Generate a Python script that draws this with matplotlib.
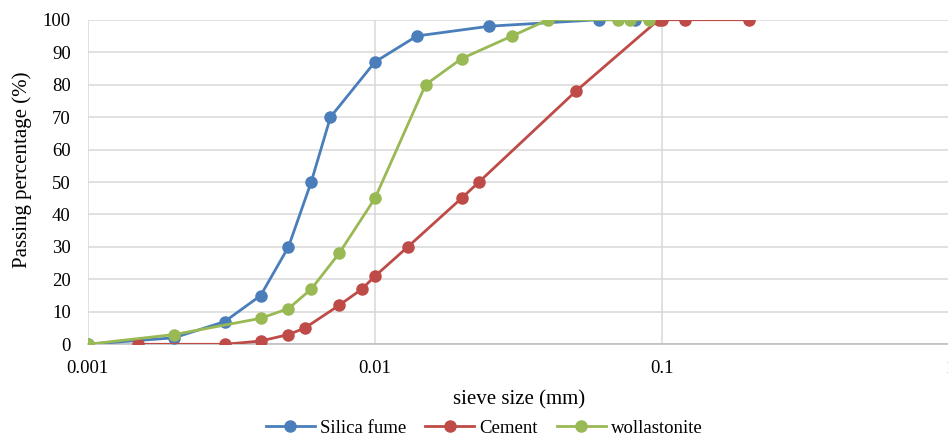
import matplotlib
matplotlib.use("Agg")
import matplotlib.pyplot as plt

# Particle size distribution data (sieve size in mm, passing in %)
silica_size = [0.001, 0.002, 0.003, 0.004, 0.005, 0.006, 0.007, 0.01, 0.014, 0.025, 0.06, 0.08]
silica_pass = [0, 2, 7, 15, 30, 50, 70, 87, 95, 98, 100, 100]

cement_size = [0.0015, 0.003, 0.004, 0.005, 0.0057, 0.0075, 0.009, 0.01, 0.013, 0.02, 0.023, 0.05,
               0.097, 0.1, 0.12, 0.2]
cement_pass = [0, 0, 1, 3, 5, 12, 17, 21, 30, 45, 50, 78, 100, 100, 100, 100]

wollast_size = [0.001, 0.002, 0.004, 0.005, 0.006, 0.0075, 0.01, 0.015, 0.02, 0.03, 0.04, 0.07,
                0.077, 0.09]
wollast_pass = [0, 3, 8, 11, 17, 28, 45, 80, 88, 95, 100, 100, 100, 100]

yticks = list(range(0, 101, 10))
xticks = [0.001, 0.01, 0.1, 1]
xtick_labels = ["0.001", "0.01", "0.1", "1"]

plt.rcParams["font.family"] = ["Liberation Serif", "DejaVu Serif"]

fig = plt.figure(figsize=(9.48, 4.48), dpi=100)
ax = fig.add_axes([0.0923, 0.2315, 0.9098, 0.7245])

blue = "#4a7ebb"
red = "#be4b48"
green = "#98b954"

ax.plot(silica_size, silica_pass, color=blue, lw=2, marker="o", ms=8, label="Silica fume", zorder=3)
ax.plot(cement_size, cement_pass, color=red, lw=2, marker="o", ms=8, label="Cement", zorder=3)
ax.plot(wollast_size, wollast_pass, color=green, lw=2, marker="o", ms=8, label="wollastonite", zorder=4)

ax.set_xscale("log")
ax.set_xlim(0.001, 1)
ax.set_ylim(0, 100)
ax.set_xticks(xticks)
ax.set_xticklabels(xtick_labels)
ax.minorticks_off()
ax.set_yticks(yticks)

ax.grid(True, color="#d9d9d9", lw=1.1)
ax.set_axisbelow(True)
for side in ["top", "right", "left"]:
    ax.spines[side].set_visible(False)
ax.spines["bottom"].set_color("#bfbfbf")
ax.spines["bottom"].set_linewidth(1.2)
ax.tick_params(length=0, labelsize=13.5, colors="black")
ax.tick_params(axis="y", pad=12)
ax.tick_params(axis="x", pad=11)

ax.set_xlabel("sieve size (mm)", fontsize=15, labelpad=10)
fig.text(0.023, 0.62, "Passing percentage (%)", rotation=90, fontsize=15,
         ha="center", va="center")

fig.legend(loc="lower center", bbox_to_anchor=(0.511, -0.012), ncol=3, frameon=False,
           fontsize=13.5, handlelength=2.6, columnspacing=1.0, handletextpad=0.3)

fig.savefig("out.png", dpi=100)
